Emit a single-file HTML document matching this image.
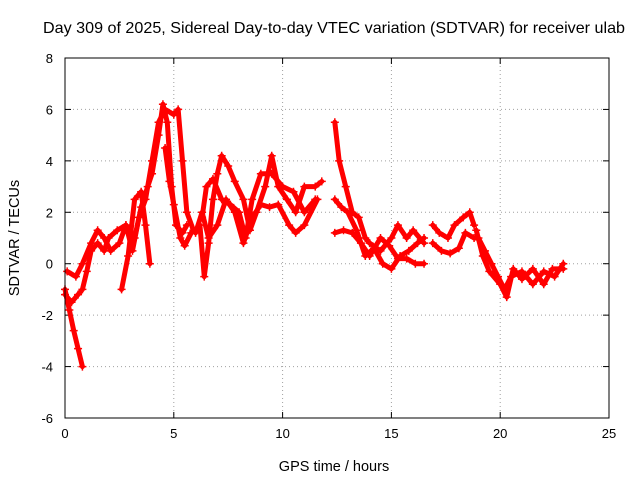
<!DOCTYPE html>
<html><head><meta charset="utf-8"><style>
body{margin:0;background:#fff}
svg{display:block;font-family:"Liberation Sans",sans-serif}
</style></head><body>
<svg id="chart" width="640" height="480" viewBox="0 0 640 480">
<rect width="640" height="480" fill="#fff"/>
<text x="43" y="33" font-size="16" textLength="582" lengthAdjust="spacingAndGlyphs">Day 309 of 2025, Sidereal Day-to-day VTEC variation (SDTVAR) for receiver ulab</text>
<text x="334" y="471" font-size="14.5" text-anchor="middle">GPS time / hours</text>
<text transform="translate(19,238) rotate(-90)" font-size="14.5" text-anchor="middle">SDTVAR / TECUs</text>
<g id="grid"></g>
<g id="ticks"></g>
<g id="marks"></g>
<rect x="65" y="58" width="544" height="360" fill="none" stroke="#000" stroke-width="1"/>
</svg>
<script>
const xTicks=[0,5,10,15,20,25];
const yTicks=[-6,-4,-2,0,2,4,6,8];
const trackA=[[0,-1],[0.2,-1.8],[0.4,-2.6],[0.6,-3.3],[0.8,-4]];
const trackB=[[0,-1.2],[0.3,-1.5],[0.6,-1.2],[0.8,-1.0],[1.0,-0.3],[1.2,0.5],[1.5,0.8],[1.8,0.5],[2.0,1.0],[2.4,1.3],[2.8,1.5],[3.2,1.0],[3.5,2.2],[3.8,3.0],[4.0,3.5],[4.3,5.0],[4.5,6.2],[4.7,5.5],[4.9,3.0],[5.1,1.5],[5.4,1.2],[5.6,1.5]];
const trackC=[[0.1,-0.3],[0.5,-0.5],[0.8,0],[1.2,0.8],[1.5,1.3],[1.8,1.0],[2.1,0.5],[2.5,0.8],[2.8,1.5],[3.1,0.5],[3.4,1.8],[3.7,2.5],[4.0,4.0],[4.3,5.5],[4.6,6.0],[5.0,5.8],[5.2,6.0],[5.4,4.0],[5.6,2.0],[5.9,1.3]];
const trackD=[[2.6,-1],[2.9,0.3],[3.2,2.5],[3.5,2.8],[3.7,1.5],[3.9,0]];
const trackE=[[4.6,4.5],[4.8,3.2],[5.0,2.3],[5.3,1.0],[5.5,0.7],[5.8,1.2]];
const trackF=[[6.2,1.5],[6.4,-0.5],[6.6,0.8],[6.8,2.5],[7.0,3.5],[7.2,4.2],[7.5,3.8],[7.8,3.2],[8.2,2.5],[8.5,1.3],[8.8,2.0],[9.2,3.0],[9.5,4.2],[9.8,3.0],[10.2,2.5],[10.6,2.0],[11.0,3.0],[11.5,3.0],[11.8,3.2]];
const trackG=[[6.3,1.8],[6.5,3.0],[6.8,3.3],[7.2,2.5],[7.6,2.3],[8.0,2.0],[8.3,1.0],[8.6,2.5],[9.0,3.5],[9.5,3.5],[10.0,3.0],[10.5,2.8],[11.0,2.0],[11.5,2.5]];
const trackH=[[6.0,1.2],[6.3,2.0],[6.6,1.0],[7.0,1.5],[7.4,2.5],[7.8,2.0],[8.2,0.8],[8.6,1.8],[9.0,2.3],[9.4,2.2],[9.8,2.3],[10.3,1.5],[10.6,1.2],[11.0,1.5],[11.6,2.5]];
const trackI=[[12.4,5.5],[12.6,4.0],[12.9,3.0],[13.2,2.0],[13.5,1.8],[13.8,1.0],[14.0,0.8],[14.5,0.5],[15.0,1.0],[15.3,1.5],[15.7,1.0],[16.0,1.3],[16.5,0.8]];
const trackJ=[[12.4,2.5],[12.7,2.2],[13.0,2.0],[13.4,1.3],[13.8,0.3],[14.2,0.6],[14.6,0],[15.0,-0.2],[15.4,0.3],[15.8,0.5],[16.2,0.8],[16.5,1.0]];
const trackK=[[12.4,1.2],[12.8,1.3],[13.2,1.2],[13.6,0.8],[14.0,0.3],[14.5,1.0],[14.9,0.7],[15.3,0.2],[15.7,0.2],[16.1,0],[16.5,0]];
const trackL=[[16.9,1.5],[17.2,1.2],[17.6,1.0],[17.9,1.5],[18.3,1.8],[18.6,2.0],[18.8,1.5]];
const trackM=[[16.9,0.8],[17.3,0.5],[17.7,0.4],[18.1,0.6],[18.4,1.2],[18.8,1.0],[19.0,1.0],[19.3,0.5],[19.6,0.0],[19.9,-0.5],[20.2,-1.0],[20.5,-0.5],[21.0,-0.3],[21.5,-0.8],[22.0,-0.3],[22.5,-0.5],[22.9,0]];
const trackN=[[18.9,1.3],[19.2,0.3],[19.5,-0.3],[20.0,-0.8],[20.3,-1.3],[20.6,-0.2],[21.0,-0.6],[21.5,-0.2],[22.0,-0.8],[22.4,-0.2],[22.9,-0.2]];
const tracks=[trackA,trackB,trackC,trackD,trackE,trackF,trackG,trackH,trackI,trackJ,trackK,trackL,trackM,trackN];

const NS="http://www.w3.org/2000/svg";
const X0=65,X1=609,Y0=418,Y1=58;
function xs(t){return X0+(t-0)/(25-0)*(X1-X0);}
function ys(v){return Y0-(v-(-6))/(8-(-6))*(Y0-Y1);}
const grid=document.getElementById('grid'),ticks=document.getElementById('ticks'),marks=document.getElementById('marks');
function mk(tag,attrs,parent){const e=document.createElementNS(NS,tag);for(const k in attrs)e.setAttribute(k,attrs[k]);parent.appendChild(e);return e;}
xTicks.forEach(t=>{
  const x=xs(t);
  if(t>0&&t<25){const g=mk('line',{x1:x,x2:x,y1:Y1,y2:Y0,stroke:'#a0a0a0','stroke-dasharray':'1,3'},grid);
  
  }
  mk('line',{x1:x,x2:x,y1:Y0,y2:Y0-6,stroke:'#000'},ticks);
  mk('line',{x1:x,x2:x,y1:Y1,y2:Y1+6,stroke:'#000'},ticks);
  const l=mk('text',{x:x,y:Y0+20,'font-size':13,'text-anchor':'middle'},ticks);l.textContent=t;
  
  
});
yTicks.forEach(v=>{
  const y=ys(v);
  if(v>-6&&v<8){const g=mk('line',{x1:X0,x2:X1,y1:y,y2:y,stroke:'#a0a0a0','stroke-dasharray':'1,3'},grid);
  
  }
  mk('line',{x1:X0,x2:X0+6,y1:y,y2:y,stroke:'#000'},ticks);
  mk('line',{x1:X1,x2:X1-6,y1:y,y2:y,stroke:'#000'},ticks);
  const l=mk('text',{x:X0-12,y:y+5,'font-size':13,'text-anchor':'end'},ticks);l.textContent=v;
  
  
});
tracks.forEach((tr,i)=>{
  const pts=tr.map(p=>xs(p[0])+','+ys(p[1])).join(' ');
  const pl=mk('polyline',{points:pts,fill:'none',stroke:'#f00','stroke-width':5,'stroke-linejoin':'round','stroke-linecap':'round'},marks);
  
  
  tr.forEach(p=>{
    const x=xs(p[0]),y=ys(p[1]);
    const m=mk('path',{d:`M${x-4},${y}H${x+4}M${x},${y-4}V${y+4}`,stroke:'#f00','stroke-width':1.5},marks);
    
    
  });
});
</script>
</body></html>
